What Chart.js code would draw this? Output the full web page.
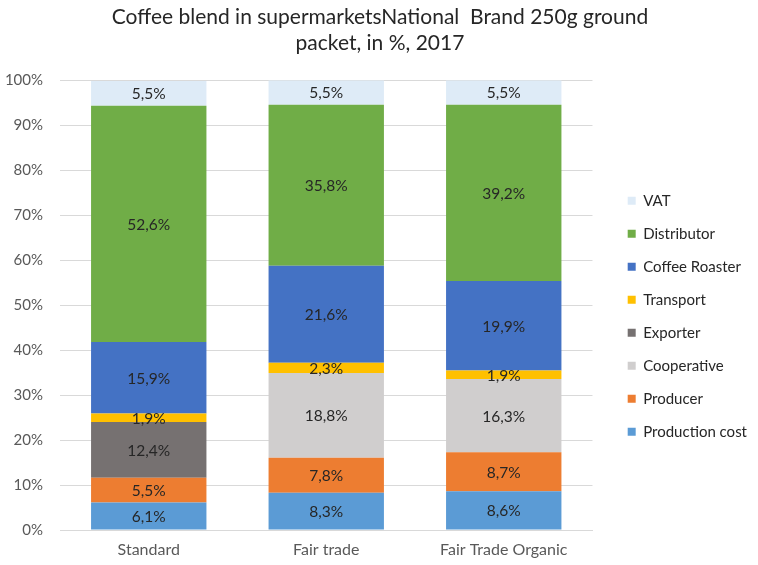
<!DOCTYPE html>
<html>
<head>
<meta charset="utf-8">
<script src="https://cdn.jsdelivr.net/npm/chart.js@4"></script>
<style>
  html, body { margin: 0; padding: 0; background: #fff; }
</style>
</head>
<body>
<canvas id="coffeeChart" width="758" height="565"></canvas>
<script>
const categories = ['Standard', 'Fair trade', 'Fair Trade Organic'];
const seriesNames = ['Production cost', 'Producer', 'Cooperative', 'Exporter', 'Transport', 'Coffee Roaster', 'Distributor', 'VAT'];
const productionCost = [6.1, 8.3, 8.6];
const producer = [5.5, 7.8, 8.7];
const cooperative = [0, 18.8, 16.3];
const exporter = [12.4, 0, 0];
const transport = [1.9, 2.3, 1.9];
const coffeeRoaster = [15.9, 21.6, 19.9];
const distributor = [52.6, 35.8, 39.2];
const vat = [5.5, 5.5, 5.5];
const yTicks = [0, 10, 20, 30, 40, 50, 60, 70, 80, 90, 100];

const seriesValues = [productionCost, producer, cooperative, exporter, transport, coffeeRoaster, distributor, vat];
const seriesColors = ['#5b9bd5', '#ed7d31', '#d0cece', '#767171', '#ffc000', '#4472c4', '#70ad47', '#deebf7'];

const fontFamily = 'Lato, "Open Sans", sans-serif';

// draws the value in the middle of every segment, like the datalabels plugin would
const segmentLabels = {
    id: 'segmentLabels',
    afterDatasetsDraw(chart) {
        const ctx = chart.ctx;
        ctx.save();
        ctx.font = '15.5px ' + fontFamily;
        ctx.fillStyle = '#262626';
        ctx.textAlign = 'center';
        ctx.textBaseline = 'middle';
        chart.data.datasets.forEach((ds, i) => {
            const meta = chart.getDatasetMeta(i);
            meta.data.forEach((bar, j) => {
                const v = ds.data[j];
                if (!v) return;
                const mid = (bar.y + bar.base) / 2;
                ctx.fillText(v.toFixed(1).replace('.', ',') + '%', bar.x, mid + 1);
            });
        });
        ctx.restore();
    }
};

const ctx = document.getElementById('coffeeChart').getContext('2d');
const coffeeChart = new Chart(ctx, {
    type: 'bar',
    data: {
        labels: categories,
        datasets: seriesNames.map((name, i) => ({
            label: name,
            data: seriesValues[i],
            backgroundColor: seriesColors[i],
            borderWidth: 0,
            categoryPercentage: 1,
            barPercentage: 0.65
        }))
    },
    options: {
        responsive: false,
        animation: false,
        layout: { padding: { left: 3, right: 1, top: 4, bottom: 5 } },
        plugins: {
            title: {
                display: true,
                text: ['Coffee blend in supermarketsNational  Brand 250g ground', 'packet, in %, 2017'],
                color: '#262626',
                font: { family: fontFamily, size: 21, weight: 'normal', lineHeight: 1.25 },
                padding: { top: 0, bottom: 24 }
            },
            // empty subtitle on the right, used as a spacer between plot and legend
            subtitle: {
                display: true,
                text: '',
                position: 'right',
                weight: 500,
                font: { size: 1 },
                padding: 8
            },
            legend: {
                position: 'right',
                reverse: true,
                maxWidth: 170,
                // empty title only used to push the items down a little
                title: { display: true, text: '', padding: 27, font: { size: 12 } },
                labels: {
                    boxWidth: 8,
                    boxHeight: 8,
                    padding: 18,
                    color: '#262626',
                    font: { family: fontFamily, size: 15 }
                }
            },
            tooltip: { enabled: false }
        },
        scales: {
            x: {
                stacked: true,
                grid: { display: false, drawTicks: false },
                border: { color: '#d9d9d9', width: 1 },
                ticks: { color: '#595959', font: { family: fontFamily, size: 16 }, padding: 10, maxRotation: 0 },
                afterFit: (scale) => { scale.height = 30; }
            },
            y: {
                stacked: true,
                min: 0,
                max: 100,
                afterBuildTicks: (axis) => { axis.ticks = yTicks.map(v => ({ value: v })); },
                afterFit: (scale) => { scale.width = 57; },
                grid: { color: '#d9d9d9', drawTicks: false },
                border: { display: false },
                ticks: {
                    color: '#595959',
                    padding: 17,
                    font: { family: fontFamily, size: 15 },
                    callback: (value) => value + '%'
                }
            }
        }
    },
    plugins: [segmentLabels]
});
</script>
</body>
</html>
